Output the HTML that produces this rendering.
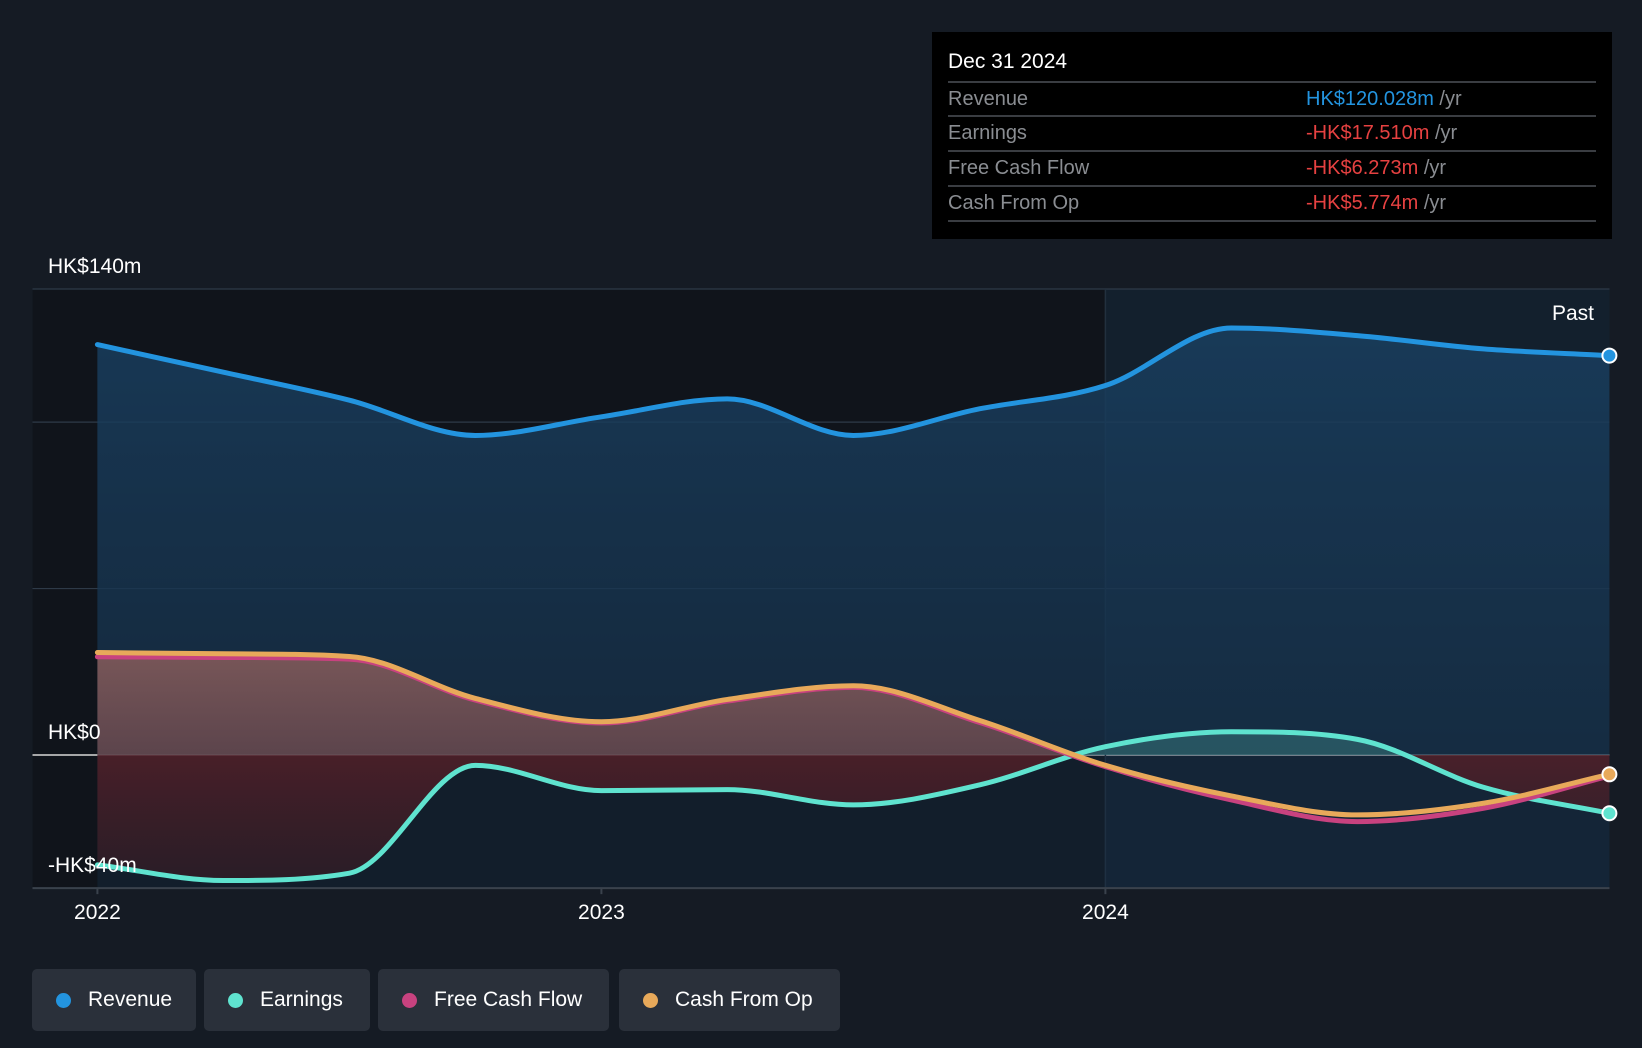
<!DOCTYPE html>
<html><head><meta charset="utf-8">
<style>
body{margin:0;width:1642px;height:1048px;background:#151b24;font-family:"Liberation Sans",sans-serif;overflow:hidden;position:relative}
.tip{position:absolute;left:932px;top:32px;width:680px;height:207px;background:#000}
.tip .t{position:absolute;left:16px;top:18px;color:#fff;font-size:21px}
.row{position:absolute;left:16px;width:648px;height:34px;border-top:2px solid #3a3d42;font-size:20px;color:#8a8d92}
.row span.l{position:absolute;left:0;top:5px}
.row span.v{position:absolute;left:358px;top:5px}
.row:last-child{border-bottom:2px solid #3a3d42}
.leg{position:absolute;top:969px;height:62px;background:#2a303a;border-radius:5px;color:#fff;font-size:21px;box-sizing:border-box;padding-left:56px;line-height:62px}
.leg i{position:absolute;left:24px;top:24px;width:15px;height:15px;border-radius:50%}
</style></head><body>
<svg id="chart" width="1642" height="960" style="position:absolute;left:0;top:0">
<defs>
<linearGradient id="rg" x1="0" y1="0" x2="0" y2="1"><stop offset="0" stop-color="#1b4a70" stop-opacity="0.75"/><stop offset="1" stop-color="#163048" stop-opacity="0.6"/></linearGradient>
<linearGradient id="cg" x1="0" y1="0" x2="0" y2="1"><stop offset="0" stop-color="#8a5e5c" stop-opacity="0.85"/><stop offset="1" stop-color="#5a3f48" stop-opacity="0.8"/></linearGradient>
<linearGradient id="ng" x1="0" y1="0" x2="0" y2="1"><stop offset="0" stop-color="#5a2028" stop-opacity="0.85"/><stop offset="1" stop-color="#3a1c24" stop-opacity="0.6"/></linearGradient>
</defs>
<g id="g"></g>
</svg>
<div class="tip">
<div class="t">Dec 31 2024</div>
<div class="row" style="top:49px"><span class="l">Revenue</span><span class="v"><b style="font-weight:normal;color:#2394df">HK$120.028m</b> /yr</span></div>
<div class="row" style="top:83px"><span class="l">Earnings</span><span class="v"><b style="font-weight:normal;color:#e64141">-HK$17.510m</b> /yr</span></div>
<div class="row" style="top:118px"><span class="l">Free Cash Flow</span><span class="v"><b style="font-weight:normal;color:#e64141">-HK$6.273m</b> /yr</span></div>
<div class="row" style="top:153px;height:33px"><span class="l">Cash From Op</span><span class="v"><b style="font-weight:normal;color:#e64141">-HK$5.774m</b> /yr</span></div>
</div>
<div class="leg" style="left:32px;width:164px"><i style="background:#2394df"></i>Revenue</div>
<div class="leg" style="left:204px;width:166px"><i style="background:#5fe3cf"></i>Earnings</div>
<div class="leg" style="left:378px;width:231px"><i style="background:#c8427f"></i>Free Cash Flow</div>
<div class="leg" style="left:619px;width:221px"><i style="background:#e8a95a"></i>Cash From Op</div>
<script>
const times=[2022,2022.25,2022.5,2022.75,2023,2023.25,2023.5,2023.75,2024,2024.25,2024.5,2024.75,2025];
const revenue=[123.3,115,106.6,96,101.6,107,96,104,111,128.3,126,122,120.0];
const earnings=[-33,-37.7,-35.5,-3.1,-10.7,-10.4,-15,-9,2.5,7,4.7,-9.7,-17.5];
const fcf=[29.5,29.3,28.8,16.5,9.6,16.2,20.3,9.8,-3.5,-13.5,-20,-16,-6.3];
const cfo=[30.8,30.4,29.6,17,10,16.7,20.8,10.4,-3.1,-12.3,-18,-14.5,-5.8];
const yTicks=[140,0,-40];
const yTickLabels=["HK$140m","HK$0","-HK$40m"];
const yGrid=[140,100,50,0];
const xTicks=[2022,2023,2024];
const X=t=>97.4+(t-2022)*504;
const Y=v=>755-v*(466/140);
const NS="http://www.w3.org/2000/svg";
const g=document.getElementById('g');
function el(tag,attrs){const e=document.createElementNS(NS,tag);for(const k in attrs)e.setAttribute(k,attrs[k]);g.appendChild(e);return e;}
function path(vals){const p=vals.map((v,i)=>[X(times[i]),Y(v)]);const n=p.length;
const d=[],m=[];for(let i=0;i<n-1;i++)d.push((p[i+1][1]-p[i][1])/(p[i+1][0]-p[i][0]));
for(let i=0;i<n;i++){if(i===0)m.push(d[0]);else if(i===n-1)m.push(d[n-2]);else m.push(d[i-1]*d[i]<=0?0:(d[i-1]+d[i])/2);}
for(let i=0;i<n-1;i++){if(d[i]===0){m[i]=0;m[i+1]=0;continue;}const a=m[i]/d[i],b=m[i+1]/d[i],s=a*a+b*b;if(s>9){const t=3/Math.sqrt(s);m[i]=t*a*d[i];m[i+1]=t*b*d[i];}}
let s=`M${p[0][0]},${p[0][1]}`;
for(let i=0;i<n-1;i++){const h=(p[i+1][0]-p[i][0])/3;s+=` C${p[i][0]+h},${p[i][1]+m[i]*h} ${p[i+1][0]-h},${p[i+1][1]-m[i+1]*h} ${p[i+1][0]},${p[i+1][1]}`;}return s;}
const L=32.5,R=1609.5,T=Y(140),B=Y(-40);
let r=el('rect',{x:L,y:T,width:X(2024)-L,height:B-T,fill:'#10141b'});

r=el('rect',{x:X(2024),y:T,width:R-X(2024),height:B-T,fill:'#13202d'});

yGrid.forEach(v=>{const l=el('line',{x1:L,x2:R,y1:Y(v),y2:Y(v),stroke:v===0?'#d8d8d8':'#2e3a48','stroke-width':v===0?1.5:1.2});
});
let vl=el('line',{x1:X(2024),x2:X(2024),y1:T,y2:B,stroke:'#22303e','stroke-width':1.5});

const x0=X(2022),x1=X(2025),z=Y(0);
let a=el('path',{d:path(revenue)+` L${x1},${z} L${x0},${z} Z`,fill:'url(#rg)'});

a=el('path',{d:path(revenue)+` L${x1},${B} L${x0},${B} Z`,fill:'#16304a',opacity:0.35});

const cp=document.createElementNS(NS,'clipPath');cp.id='pos';cp.innerHTML=`<rect x="0" y="0" width="1700" height="${z}"/>`;g.appendChild(cp);
const cn=document.createElementNS(NS,'clipPath');cn.id='neg';cn.innerHTML=`<rect x="0" y="${z}" width="1700" height="400"/>`;g.appendChild(cn);
a=el('path',{d:path(cfo)+` L${x1},${z} L${x0},${z} Z`,fill:'url(#cg)','clip-path':'url(#pos)'});

a=el('path',{d:path(earnings)+` L${x1},${z} L${x0},${z} Z`,fill:'url(#ng)','clip-path':'url(#neg)'});

a=el('path',{d:path(earnings)+` L${x1},${z} L${x0},${z} Z`,fill:'#3a7c80',opacity:0.5,'clip-path':'url(#pos)'});

const series=[[revenue,'#2394df','revenue-line'],[earnings,'#5fe3cf','earnings-line'],[fcf,'#c8427f','fcf-line'],[cfo,'#e8a95a','cfo-line']];
series.forEach(([v,c,n])=>{const p=el('path',{d:path(v),fill:'none',stroke:c,'stroke-width':5,'stroke-linecap':'round'});
});
[[revenue,'#2394df'],[earnings,'#5fe3cf'],[cfo,'#e8a95a']].forEach(([v,c])=>{const d=el('circle',{cx:x1,cy:Y(v[v.length-1]),r:7,fill:c,stroke:'#fff','stroke-width':2});
});
let bl=el('line',{x1:L,x2:R,y1:B,y2:B,stroke:'#3a424c','stroke-width':2});

yTicks.forEach((v,i)=>{const t=el('text',{x:48,y:Y(v)-16,fill:'#fff','font-size':21,'font-family':'Liberation Sans'});t.textContent=yTickLabels[i];
});
xTicks.forEach(v=>{const k=el('line',{x1:X(v),x2:X(v),y1:B,y2:B+6,stroke:'#3a424c','stroke-width':2});

const t=el('text',{x:X(v),y:B+31,fill:'#fff','font-size':21,'text-anchor':'middle','font-family':'Liberation Sans'});t.textContent=v;
});
const pt=el('text',{x:1594,y:320,fill:'#fff','font-size':21,'text-anchor':'end','font-family':'Liberation Sans'});pt.textContent='Past';

</script>
</body></html>
